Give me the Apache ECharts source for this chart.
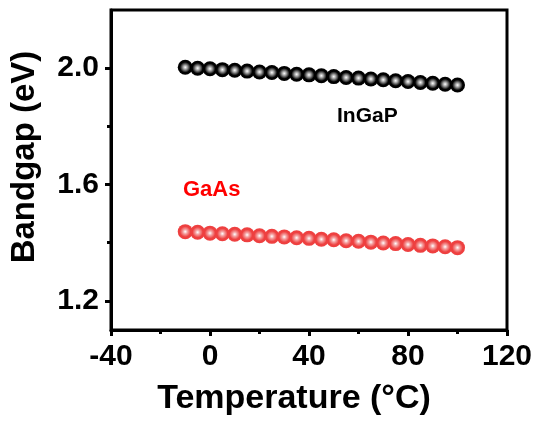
<!DOCTYPE html>
<html>
<head>
<meta charset="utf-8">
<script src="https://cdn.jsdelivr.net/npm/echarts@6/dist/echarts.min.js"></script>
<style>
  html, body { margin: 0; padding: 0; background: #fff; }
  #chart { width: 539px; height: 423px; }
</style>
</head>
<body>
<div id="chart"></div>
<script>
// Temperature (°C) of each measurement
const temperatures = [-10, -5, 0, 5, 10, 15, 20, 25, 30, 35, 40, 45, 50, 55, 60, 65, 70, 75, 80, 85, 90, 95, 100];
// Bandgap values (eV)
const ingap = [2.003, 2.000, 1.998, 1.995, 1.993, 1.990, 1.987, 1.985, 1.982, 1.979, 1.977, 1.974,
               1.971, 1.968, 1.966, 1.963, 1.960, 1.957, 1.954, 1.951, 1.948, 1.945, 1.942];
const gaas = [1.438, 1.436, 1.433, 1.431, 1.429, 1.427, 1.424, 1.422, 1.420, 1.417, 1.415, 1.412,
              1.410, 1.407, 1.405, 1.402, 1.399, 1.397, 1.394, 1.391, 1.389, 1.386, 1.383];
// axis ticks
const xTicks = [-40, 0, 40, 80, 120];
const xMinorTicks = [-20, 20, 60, 100];
const yTicks = [1.2, 1.6, 2.0];
const yMinorTicks = [1.4, 1.8];

const chart = echarts.init(document.getElementById('chart'));

const FONT = 'Liberation Sans, Arial, sans-serif';

// shiny ball look for the markers
function ball(edge, mid) {
  return {
    type: 'radial', x: 0.5, y: 0.5, r: 0.5,
    colorStops: [
      { offset: 0, color: '#ffffff' },
      { offset: 0.3, color: mid },
      { offset: 0.7, color: edge },
      { offset: 1, color: edge }
    ]
  };
}

const pair = (ys) => temperatures.map((t, i) => [t, ys[i]]);

const options = {
  animation: false,
  grid: {
    left: 110, right: 32, top: 10, bottom: 93,
    show: true,
    borderColor: '#000',
    borderWidth: 3
  },
  xAxis: [
    {
      type: 'value',
      min: xTicks[0],
      max: xTicks[xTicks.length - 1],
      splitLine: { show: false },
      axisLine: { onZero: false, lineStyle: { color: '#000', width: 3 } },
      axisTick: { show: true, customValues: xTicks, length: 6, lineStyle: { color: '#000', width: 3 } },
      axisLabel: {
        customValues: xTicks,
        color: '#000', fontFamily: FONT, fontWeight: 'bold', fontSize: 30, margin: 12
      },
      name: 'Temperature (°C)',
      nameLocation: 'middle',
      nameGap: 52,
      nameTextStyle: { color: '#000', fontFamily: FONT, fontWeight: 'bold', fontSize: 34, padding: [0, 30, 0, 0] }
    },
    {
      // minor ticks
      type: 'value',
      position: 'bottom',
      min: xTicks[0],
      max: xTicks[xTicks.length - 1],
      splitLine: { show: false },
      axisLine: { show: false, onZero: false },
      axisTick: { show: true, customValues: xMinorTicks, length: 4, lineStyle: { color: '#000', width: 3 } },
      axisLabel: { show: false }
    }
  ],
  yAxis: [
    {
      type: 'value',
      min: 1.1,
      max: 2.2,
      splitLine: { show: false },
      axisLine: { onZero: false, lineStyle: { color: '#000', width: 3 } },
      axisTick: { show: true, customValues: yTicks, length: 6, lineStyle: { color: '#000', width: 3 } },
      axisLabel: {
        customValues: yTicks,
        formatter: (v) => v.toFixed(1),
        color: '#000', fontFamily: FONT, fontWeight: 'bold', fontSize: 30, margin: 12
      },
      name: 'Bandgap (eV)',
      nameLocation: 'middle',
      nameGap: 70,
      nameTextStyle: { color: '#000', fontFamily: FONT, fontWeight: 'bold', fontSize: 33, padding: [0, 0, 0, 26] }
    },
    {
      type: 'value',
      position: 'left',
      min: 1.1,
      max: 2.2,
      splitLine: { show: false },
      axisLine: { show: false, onZero: false },
      axisTick: { show: true, customValues: yMinorTicks, length: 4, lineStyle: { color: '#000', width: 3 } },
      axisLabel: { show: false }
    }
  ],
  series: [
    {
      name: 'InGaP',
      type: 'scatter',
      symbol: 'circle',
      symbolSize: 15,
      data: pair(ingap),
      itemStyle: { color: ball('#000000', '#9a9a9a'), opacity: 1 }
    },
    {
      name: 'GaAs',
      type: 'scatter',
      symbol: 'circle',
      symbolSize: 15,
      data: pair(gaas),
      itemStyle: { color: ball('#ee4040', '#f4a0a0'), opacity: 1 }
    }
  ],
  graphic: [
    {
      type: 'text', left: 337, top: 106,
      style: { text: 'InGaP', fill: '#000', font: 'bold 21px ' + FONT }
    },
    {
      type: 'text', left: 183, top: 179,
      style: { text: 'GaAs', fill: '#ff0000', font: 'bold 22px ' + FONT }
    }
  ]
};

chart.setOption(options);
</script>
</body>
</html>
